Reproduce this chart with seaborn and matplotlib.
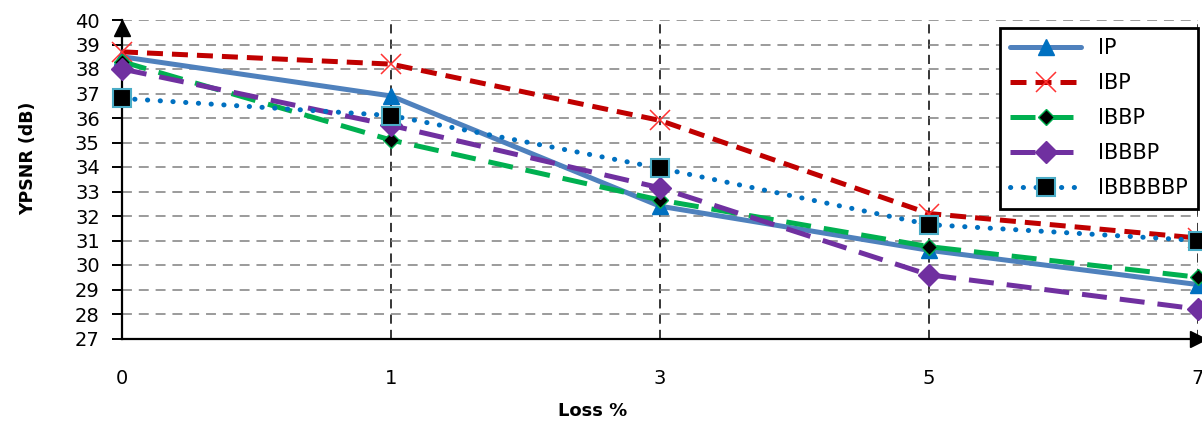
import matplotlib
matplotlib.use("Agg")
import matplotlib.pyplot as plt
import seaborn as sns

# Packet-loss levels and Y-PSNR (dB) for each GOP structure
loss_levels = ["0", "1", "3", "5", "7"]
ip = [38.5, 36.9, 32.4, 30.6, 29.2]
ibp = [38.7, 38.2, 35.9, 32.1, 31.1]
ibbp = [38.3, 35.1, 32.65, 30.75, 29.5]
ibbbp = [38.0, 35.7, 33.15, 29.6, 28.2]
ibbbbbp = [36.8, 36.1, 33.95, 31.65, 31.0]

series_names = ["IP", "IBP", "IBBP", "IBBBP", "IBBBBBP"]
y_ticks = list(range(27, 41))

sns.set_style("white")
plt.rcParams["font.family"] = ["DejaVu Sans"]
plt.rcParams["text.color"] = "black"
plt.rcParams["axes.labelcolor"] = "black"
plt.rcParams["xtick.color"] = "black"
plt.rcParams["ytick.color"] = "black"

fig = plt.figure(figsize=(12.02, 4.21), dpi=100)
ax = fig.add_axes([122 / 1202, 1 - 338.5 / 421, 1076 / 1202, 318.5 / 421])

pos = list(range(len(loss_levels)))

styles = [
    dict(color="#4F81BD", linewidth=3.6, linestyle="-", marker="^", markersize=12,
         markerfacecolor="#0070C0", markeredgecolor="#0070C0", markeredgewidth=1),
    dict(color="#C00000", linewidth=3.6, linestyle=(0, (3.2, 1.8)), marker="x", markersize=14,
         markerfacecolor="none", markeredgecolor="#FF3333", markeredgewidth=1.1),
    dict(color="#00B050", linewidth=3.6, linestyle=(0, (5.0, 2.6)), marker="D", markersize=8.5,
         markerfacecolor="black", markeredgecolor="#00B050", markeredgewidth=1),
    dict(color="#7030A0", linewidth=3.6, linestyle=(0, (5.0, 2.6)), marker="D", markersize=11,
         markerfacecolor="#7030A0", markeredgecolor="#7030A0", markeredgewidth=1),
    dict(color="#0070C0", linewidth=3.6, linestyle=(0, (0.05, 2.5)), marker="s", markersize=13,
         markerfacecolor="black", markeredgecolor="#4BACC6", markeredgewidth=1.5,
         dash_capstyle="round"),
]

for i, (name, vals, st) in enumerate(zip(series_names, [ip, ibp, ibbp, ibbbp, ibbbbbp], styles)):
    sns.lineplot(x=pos, y=vals, ax=ax, label=name, clip_on=False, zorder=5 + i, **st)

ax.set_xlim(0, len(loss_levels) - 1)
ax.set_ylim(27, 40)
ax.set_xticks(pos)
ax.set_xticklabels(loss_levels)
ax.set_yticks(y_ticks)

# Grid: grey dashed horizontals, black dashed verticals
ax.yaxis.grid(True, color="#808080", linestyle=(0, (6.5, 4.5)), linewidth=1.1, zorder=0)
ax.xaxis.grid(True, color="black", linestyle=(0, (6, 4)), linewidth=1.1, zorder=0)
ax.set_axisbelow(True)

for side in ["top", "right"]:
    ax.spines[side].set_visible(False)
for side in ["left", "bottom"]:
    ax.spines[side].set_color("black")
    ax.spines[side].set_linewidth(1.6)

ax.tick_params(axis="y", direction="out", length=7, width=1.4, color="black",
               labelsize=14, pad=9, left=True, labelcolor="black")
ax.tick_params(axis="x", length=0, labelsize=14, pad=22, labelcolor="black")

# Arrow heads at the ends of the axes
ax.plot([1], [0], marker=">", markersize=11, color="black", transform=ax.transAxes,
        clip_on=False, zorder=20)
ax.plot([0], [0.975], marker="^", markersize=11, color="black", transform=ax.transAxes,
        clip_on=False, zorder=20)

ax.set_ylabel("YPSNR (dB)", fontsize=12.5, fontweight="bold", color="black")
ax.yaxis.set_label_coords(-0.079, 0.567)
ax.set_xlabel("Loss %", fontsize=13, fontweight="bold", color="black")
ax.xaxis.set_label_coords(0.437, -0.2)

leg = ax.legend(loc="upper right", bbox_to_anchor=(1.0, 0.975), borderaxespad=0,
                fontsize=15, handlelength=3.4, labelspacing=0.72, borderpad=0.5,
                fancybox=False, framealpha=1, edgecolor="black")
leg.get_frame().set_linewidth(2)
leg.set_zorder(30)
for t in leg.get_texts():
    t.set_color("black")

fig.savefig("out.png", dpi=100, facecolor="white")
